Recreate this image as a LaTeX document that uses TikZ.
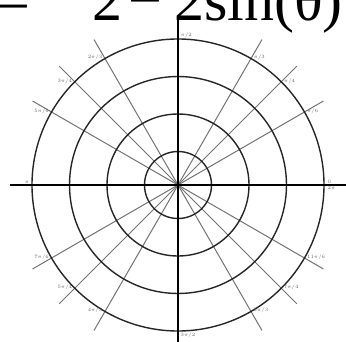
\documentclass[tikz,border=0pt]{standalone}
\usepackage{fontspec}
\setmainfont{Liberation Serif}
\usepackage{xcolor}
\usepackage{tikz}
\usetikzlibrary{calc}

\begin{document}
\begin{tikzpicture}[
    x=1pt, y=1pt,
    ring/.style  = {draw=black!85, line width=1.4pt},
    spoke/.style = {draw=black!55, line width=1pt},
    axis/.style  = {draw=black, line width=1.5pt},
    tick/.style  = {font=\fontsize{3.5}{4}\selectfont, text=black!60, inner sep=0.5pt},
]
\useasboundingbox (0,0) rectangle (346,341);

% ============ Title (cut off at the top) ============
\node[anchor=base east, inner sep=0pt, font=\fontsize{60}{60}\selectfont] (eqn)
    at (343,320) {r =\hspace{62pt}2\hspace{6pt}−\hspace{12pt}2sin(θ)};

% ============ Polar grid ============
\coordinate (O) at (178,156);

\foreach \a in {30,45,60,120,135,150}
    \draw[spoke] ($(O)+(\a:-168)$) -- ($(O)+(\a:168)$);

\foreach \r in {33.5,71,108.5,146}
    \draw[ring] (O) circle (\r);

\draw[axis] ($(O)+(-168,0)$) -- ($(O)+(168,0)$);
\draw[axis] ($(O)+(0,-168)$) -- ($(O)+(0,168)$);

% ============ Angle labels on the outer ring ============
\foreach \a/\t in {30/{\pi/6},45/{\pi/4},60/{\pi/3},
                   300/{5\pi/3},315/{7\pi/4},330/{11\pi/6}}
    \node[tick, anchor=west] at ($(O)+(\a:146)+(2,1)$) {$\t$};
\foreach \a/\t in {120/{2\pi/3},135/{3\pi/4},150/{5\pi/6},
                   210/{7\pi/6},225/{5\pi/4},240/{4\pi/3}}
    \node[tick, anchor=east] at ($(O)+(\a:146)+(-2,1)$) {$\t$};

\node[tick, anchor=south west] at ($(O)+(0,146)+(2,1)$) {$\pi/2$};
\node[tick, anchor=north west] at ($(O)+(0,-146)+(2,-1)$) {$3\pi/2$};
\node[tick, anchor=south west] at ($(O)+(146,0)+(3,1)$) {$0$};
\node[tick, anchor=north west] at ($(O)+(146,0)+(3,-1)$) {$2\pi$};
\node[tick, anchor=south east] at ($(O)+(-146,0)+(-2,1)$) {$\pi$};

\end{tikzpicture}
\end{document}
